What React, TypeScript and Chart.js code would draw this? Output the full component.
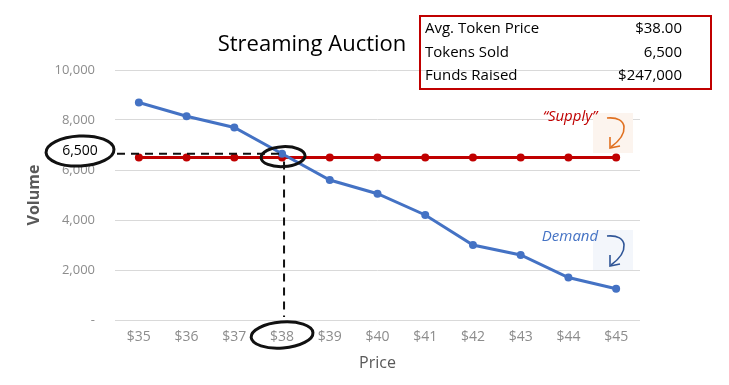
import React, { useEffect, useRef } from "react";
import { Chart, registerables } from "chart.js";

Chart.register(...registerables);

const prices = ["$35", "$36", "$37", "$38", "$39", "$40", "$41", "$42", "$43", "$44", "$45"];
const demand = [8700, 8150, 7700, 6650, 5600, 5050, 4200, 3000, 2600, 1700, 1250];
const supply = [6500, 6500, 6500, 6500, 6500, 6500, 6500, 6500, 6500, 6500, 6500];
const clearingIndex = 3;
const clearingVolume = 6500;
const summaryLabels = ["Avg. Token Price", "Tokens Sold", "Funds Raised"];
const summaryValues = ["$38.00", "6,500", "$247,000"];
const chartTitle = "Streaming Auction";

const FONT = "'Open Sans', 'Liberation Sans', sans-serif";

function ellipse(ctx: CanvasRenderingContext2D, cx: number, cy: number, rx: number, ry: number, rot: number) {
  ctx.beginPath();
  ctx.ellipse(cx, cy, rx, ry, rot, 0, Math.PI * 2);
  ctx.stroke();
}

function curvedArrow(ctx: CanvasRenderingContext2D, x: number, y: number, color: string) {
  ctx.save();
  ctx.strokeStyle = color;
  ctx.lineWidth = 1.6;
  ctx.beginPath();
  ctx.moveTo(x, y);
  ctx.bezierCurveTo(x + 22, y - 2, x + 22, y + 16, x + 4, y + 29);
  ctx.stroke();
  ctx.beginPath();
  ctx.moveTo(x + 3, y + 19);
  ctx.lineTo(x + 3, y + 30);
  ctx.lineTo(x + 13, y + 28);
  ctx.stroke();
  ctx.restore();
}

const annotationPlugin = {
  id: "annotations",
  afterDraw(chart: any) {
    const ctx: CanvasRenderingContext2D = chart.ctx;
    const xs = chart.scales.x;
    const ys = chart.scales.y;
    ctx.save();

    // Title
    ctx.fillStyle = "#000";
    ctx.font = `22px ${FONT}`;
    ctx.textAlign = "center";
    ctx.textBaseline = "middle";
    ctx.fillText(chartTitle, 312, 45);

    // Summary box
    ctx.strokeStyle = "#C00000";
    ctx.lineWidth = 2;
    ctx.strokeRect(420, 16, 291, 73);
    ctx.font = `15px ${FONT}`;
    ctx.fillStyle = "#000";
    summaryLabels.forEach((lab, i) => {
      const y = 29 + i * 23.5;
      ctx.textAlign = "left";
      ctx.fillText(lab, 425, y);
      ctx.textAlign = "right";
      ctx.fillText(summaryValues[i], 682, y);
    });

    // Clearing annotations
    const cx = xs.getPixelForValue(clearingIndex);
    const cyDemand = ys.getPixelForValue(demand[clearingIndex]);
    const cySupply = ys.getPixelForValue(clearingVolume);
    ctx.strokeStyle = "#111";
    ctx.lineWidth = 2;
    ctx.setLineDash([8, 6]);
    ctx.beginPath();
    ctx.moveTo(117, cyDemand);
    ctx.lineTo(cx, cyDemand);
    ctx.stroke();
    ctx.beginPath();
    ctx.moveTo(cx + 2, cySupply + 4);
    ctx.lineTo(cx + 2, ys.getPixelForValue(0) - 3);
    ctx.stroke();
    ctx.setLineDash([]);

    ctx.lineWidth = 3;
    ellipse(ctx, 80, 151, 34, 15, -0.05);
    ellipse(ctx, cx + 1, (cyDemand + cySupply) / 2 + 1, 22, 10, -0.05);
    ellipse(ctx, cx, 335, 31, 13, -0.08);

    ctx.fillStyle = "#000";
    ctx.font = `14px ${FONT}`;
    ctx.textAlign = "center";
    ctx.fillText(clearingVolume.toLocaleString("en-US"), 80, 151);

    // Supply / Demand labels
    ctx.fillStyle = "#fcf4ee";
    ctx.fillRect(593, 113, 40, 40);
    ctx.fillStyle = "#f3f6fb";
    ctx.fillRect(593, 230, 40, 40);

    ctx.font = `italic 15px ${FONT}`;
    ctx.fillStyle = "#C00000";
    ctx.fillText("\u201CSupply\u201D", 570, 117);
    ctx.fillStyle = "#4472C4";
    ctx.fillText("Demand", 570, 237);
    curvedArrow(ctx, 607, 118, "#E07020");
    curvedArrow(ctx, 607, 236, "#2F5597");

    ctx.restore();
  },
};

export default function App() {
  const ref = useRef<HTMLCanvasElement | null>(null);
  useEffect(() => {
    if (!ref.current) return;
    const chart = new Chart(ref.current, {
      type: "line",
      data: {
        labels: prices,
        datasets: [
          {
            label: "Demand",
            data: demand,
            borderColor: "#4472C4",
            backgroundColor: "#4472C4",
            borderWidth: 3,
            pointRadius: 4,
            pointBorderWidth: 0,
            tension: 0,
          },
          {
            label: "Supply",
            data: supply,
            borderColor: "#C00000",
            backgroundColor: "#C00000",
            borderWidth: 3,
            pointRadius: 4,
            pointBorderWidth: 0,
            tension: 0,
          },
        ],
      },
      options: {
        animation: false,
        responsive: false,
        maintainAspectRatio: false,
        layout: { padding: { left: 0, right: 89, top: 70, bottom: 0 } },
        plugins: { legend: { display: false }, tooltip: { enabled: false }, title: { display: false } },
        scales: {
          x: {
            offset: true,
            grid: { display: false, drawTicks: false },
            border: { display: false },
            ticks: { color: "#8c8c8c", font: { family: FONT, size: 14 }, padding: 9 },
            title: { display: true, text: "Price", color: "#595959", font: { family: FONT, size: 16 }, padding: { top: 0, bottom: 12 } },
            afterFit: (s: any) => { s.height = 65; },
          },
          y: {
            min: 0,
            max: 10000,
            ticks: {
              stepSize: 2000,
              color: "#8c8c8c",
              font: { family: FONT, size: 13 },
              padding: 20,
              callback: (v: any) => (v === 0 ? "-" : Number(v).toLocaleString("en-US")),
            },
            grid: { color: "#d9d9d9", drawTicks: false },
            border: { display: false },
            title: { display: true, text: "Volume", color: "#595959", font: { family: FONT, size: 16, weight: "bold" }, padding: { top: 25, bottom: 0 } },
            afterFit: (s: any) => { s.width = 115; },
          },
        },
      },
      plugins: [annotationPlugin],
    });
    return () => chart.destroy();
  }, []);
  return (
    <div style={{ position: "fixed", left: 0, top: 0, width: 729, height: 385, background: "#fff" }}>
      <canvas ref={ref} width={729} height={385} style={{ width: 729, height: 385 }} />
    </div>
  );
}
